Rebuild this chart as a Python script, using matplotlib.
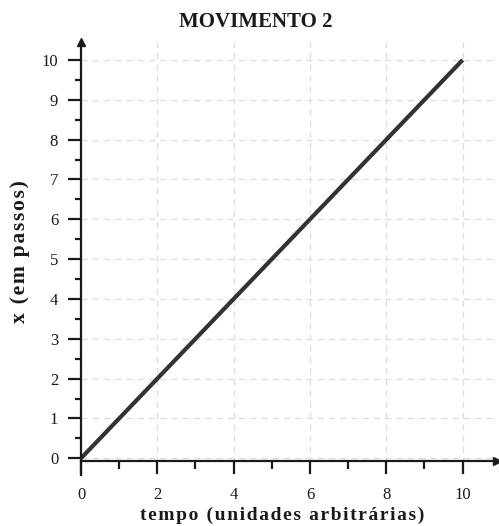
import matplotlib
matplotlib.use("Agg")
import matplotlib.pyplot as plt
from matplotlib.ticker import MultipleLocator

# dados do movimento 2
tempo = [0, 10]
posicao = [0, 10]

x_ticks = [0, 2, 4, 6, 8, 10]
y_ticks = list(range(0, 11))

plt.rcParams['font.family'] = ['Liberation Serif', 'DejaVu Serif']

fig = plt.figure(figsize=(4.99, 5.26), dpi=100)
ax = fig.add_axes([81/499, (526-475)/526, (497-81)/499, (475-42)/526])

ax.set_xlim(0, 10.9)
ax.set_ylim(-0.42, 10.45)

ax.spines['top'].set_visible(False)
ax.spines['right'].set_visible(False)
ax.spines['bottom'].set_position(('data', -0.08))
for s in ['left', 'bottom']:
    ax.spines[s].set_linewidth(1.6)
    ax.spines[s].set_color('#1a1a1a')

ax.set_xticks(x_ticks)
ax.set_yticks(y_ticks)
ax.xaxis.set_minor_locator(MultipleLocator(1))
ax.yaxis.set_minor_locator(MultipleLocator(0.5))
ax.tick_params(which='major', direction='out', length=9.4, width=1.6, color='#1a1a1a',
               labelsize=12, labelcolor='#1a1a1a')
ax.tick_params(axis='x', which='major', pad=9)
ax.tick_params(axis='y', which='major', pad=7)
ax.tick_params(axis='x', which='minor', direction='out', length=5.5, width=1.6, color='#1a1a1a')
ax.tick_params(axis='y', which='minor', direction='out', length=4.3, width=1.6, color='#1a1a1a')

ax.grid(True, which='major', linestyle=(0, (5, 4)), color='#dddddd', linewidth=0.9)
ax.set_axisbelow(True)

ax.plot(tempo, posicao, color='#333333', linewidth=3, solid_capstyle='butt')

# setas nos eixos
ax.plot(10.9, -0.08, marker='>', color='#1a1a1a', markersize=6, clip_on=False)
ax.plot(0, 10.45, marker='^', color='#1a1a1a', markersize=6, clip_on=False)

def espacado(s):
    return "\u200a".join(s)

fig.text(256/499, 1-22/526, "MOVIMENTO 2", ha='center', va='center',
         fontsize=15, fontweight='bold', color='#1a1a1a')
fig.text(282/499, 1-515/526, espacado("tempo (unidades arbitrárias)"), ha='center', va='center',
         fontsize=14, fontweight='bold', color='#1a1a1a')
fig.text(20/499, 1-252/526, espacado("x (em passos)"), ha='center', va='center', rotation=90,
         fontsize=15.5, fontweight='bold', color='#1a1a1a')

fig.savefig("out.png", dpi=100)
